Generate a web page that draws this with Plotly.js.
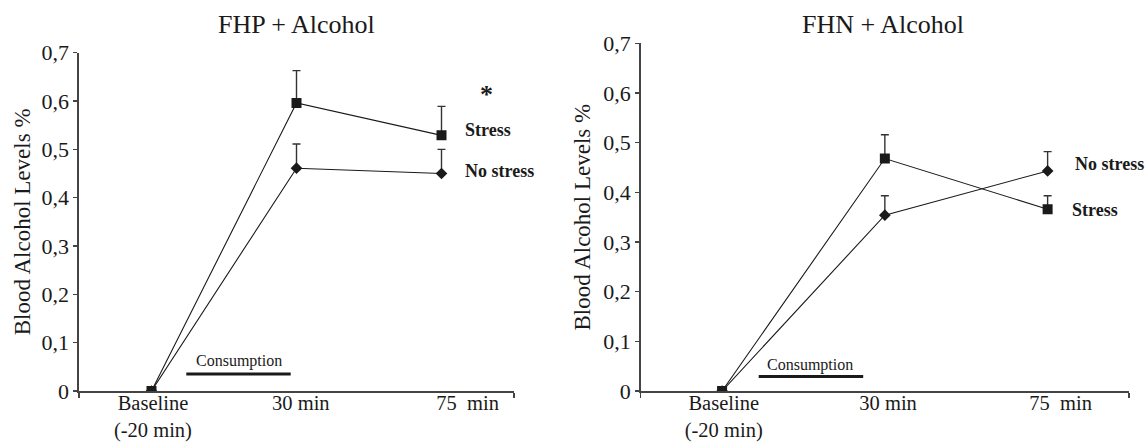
<!DOCTYPE html>
<html>
<head>
<meta charset="utf-8">
<script src="https://cdn.plot.ly/plotly-3.0.1.min.js"></script>
<style>html,body{margin:0;padding:0;background:#fff;}#chart{width:1148px;height:444px;}</style>
</head>
<body>
<div id="chart"></div>
<script>
// ---- data ----
const categories = ['Baseline<br>(-20 min)', '30 min', '75  min'];
const yTickVals = [0, 0.1, 0.2, 0.3, 0.4, 0.5, 0.6, 0.7];
const yTickText = ['0', '0,1', '0,2', '0,3', '0,4', '0,5', '0,6', '0,7'];

const fhpStress = [0, 0.596, 0.529];
const fhpStressErr = [null, 0.067, 0.060];
const fhpNoStress = [0, 0.461, 0.450];
const fhpNoStressErr = [null, 0.050, 0.050];

const fhnStress = [0, 0.468, 0.366];
const fhnStressErr = [null, 0.048, 0.027];
const fhnNoStress = [0, 0.354, 0.443];
const fhnNoStressErr = [null, 0.039, 0.039];

const panelTitles = ['FHP + Alcohol', 'FHN + Alcohol'];
const yTitle = 'Blood Alcohol Levels %';

// ---- layout helpers ----
const FONT = 'Liberation Serif';
const INK = '#1a1a1a';
const xs = categories.map((c, i) => i + 0.5);
const leftLabelPos = [0.51, 1.53, 2.68];
const rightLabelPos = [0.51, 1.52, 2.58];

function series(x, y, err, symbol, size, xa, ya) {
  return {
    x: x, y: y, type: 'scatter', mode: 'lines+markers',
    xaxis: xa, yaxis: ya, showlegend: false, hoverinfo: 'skip',
    line: {color: INK, width: 1.1},
    marker: {symbol: symbol, size: size, color: INK},
    error_y: {type: 'data', symmetric: false, array: err, arrayminus: err.map(() => 0),
              color: '#333', thickness: 1.4, width: 4}
  };
}

const traces = [
  series(xs, fhpNoStress, fhpNoStressErr, 'diamond', 9, 'x', 'y'),
  series(xs, fhpStress, fhpStressErr, 'square', 10, 'x', 'y'),
  series(xs, fhnNoStress, fhnNoStressErr, 'diamond', 9, 'x2', 'y2'),
  series(xs, fhnStress, fhnStressErr, 'square', 10, 'x2', 'y2')
];

function xAxis(domain, labelPos, anchor) {
  return {
    domain: domain, range: [0, 3], anchor: anchor, showgrid: false, zeroline: false,
    showline: true, linecolor: '#444', linewidth: 1.6,
    tickmode: 'array', tickvals: labelPos, ticktext: categories, ticks: '',
    tickfont: {family: FONT, size: 20.5, color: INK},
    ticklabelstandoff: -7,
    minor: {tickmode: 'array', tickvals: [0, 3], ticks: 'outside', ticklen: 5, tickcolor: '#444', tickwidth: 1.4},
    fixedrange: true
  };
}
function yAxis(domain, anchor, standoff) {
  return {
    domain: domain, range: [0, 0.7], anchor: anchor, showgrid: false, zeroline: false,
    showline: true, linecolor: '#444', linewidth: 1.6,
    tickmode: 'array', tickvals: yTickVals, ticktext: yTickText,
    ticks: 'outside', ticklen: 4, tickcolor: '#444', tickwidth: 1.4,
    tickfont: {family: FONT, size: 22, color: INK},
    title: {text: yTitle, font: {family: FONT, size: 23, color: INK}, standoff: standoff},
    fixedrange: true
  };
}

const W = 1148, H = 444;
const layout = {
  width: W, height: H,
  margin: {l: 0, r: 0, t: 0, b: 0},
  font: {family: FONT, color: INK},
  paper_bgcolor: '#fff', plot_bgcolor: '#fff',
  showlegend: false,
  xaxis: xAxis([79 / W, 514 / W], leftLabelPos, 'y'),
  yaxis: yAxis([53 / H, (H - 52.7) / H], 'x', 4),
  xaxis2: xAxis([640.7 / W, 1129 / W], rightLabelPos, 'y2'),
  yaxis2: yAxis([53 / H, (H - 43.3) / H], 'x2', 6),
  shapes: [
    {type: 'line', xref: 'x', yref: 'y', x0: 0.74, x1: 1.46, y0: 0.035, y1: 0.035, line: {color: INK, width: 3}},
    {type: 'line', xref: 'x2', yref: 'y2', x0: 0.725, x1: 1.367, y0: 0.029, y1: 0.029, line: {color: INK, width: 3}}
  ],
  annotations: [
    {text: panelTitles[0], xref: 'paper', yref: 'paper', x: 296.5 / W, y: (H - 24) / H, showarrow: false,
     font: {family: FONT, size: 26, color: INK}, xanchor: 'center', yanchor: 'middle'},
    {text: panelTitles[1], xref: 'paper', yref: 'paper', x: 883 / W, y: (H - 24) / H, showarrow: false,
     font: {family: FONT, size: 26, color: INK}, xanchor: 'center', yanchor: 'middle'},
    {text: 'Consumption', xref: 'x', yref: 'y', x: 1.1, y: 0.062, showarrow: false,
     font: {family: FONT, size: 16, color: INK}},
    {text: 'Consumption', xref: 'x2', yref: 'y2', x: 1.04, y: 0.052, showarrow: false,
     font: {family: FONT, size: 16, color: INK}},
    {text: '<b>Stress</b>', xref: 'x', yref: 'y', x: 2.65, y: 0.540, xanchor: 'left', showarrow: false,
     font: {family: FONT, size: 18, color: INK}},
    {text: '<b>No stress</b>', xref: 'x', yref: 'y', x: 2.65, y: 0.456, xanchor: 'left', showarrow: false,
     font: {family: FONT, size: 18, color: INK}},
    {text: '<b>*</b>', xref: 'x', yref: 'y', x: 2.81, y: 0.622, showarrow: false, yshift: -4,
     font: {family: FONT, size: 26, color: INK}},
    {text: '<b>No stress</b>', xref: 'x2', yref: 'y2', x: 2.655, y: 0.458, xanchor: 'left', showarrow: false,
     font: {family: FONT, size: 18, color: INK}},
    {text: '<b>Stress</b>', xref: 'x2', yref: 'y2', x: 2.64, y: 0.364, xanchor: 'left', showarrow: false,
     font: {family: FONT, size: 18, color: INK}}
  ]
};

Plotly.newPlot('chart', traces, layout, {staticPlot: true, displayModeBar: false});
</script>
</body>
</html>
